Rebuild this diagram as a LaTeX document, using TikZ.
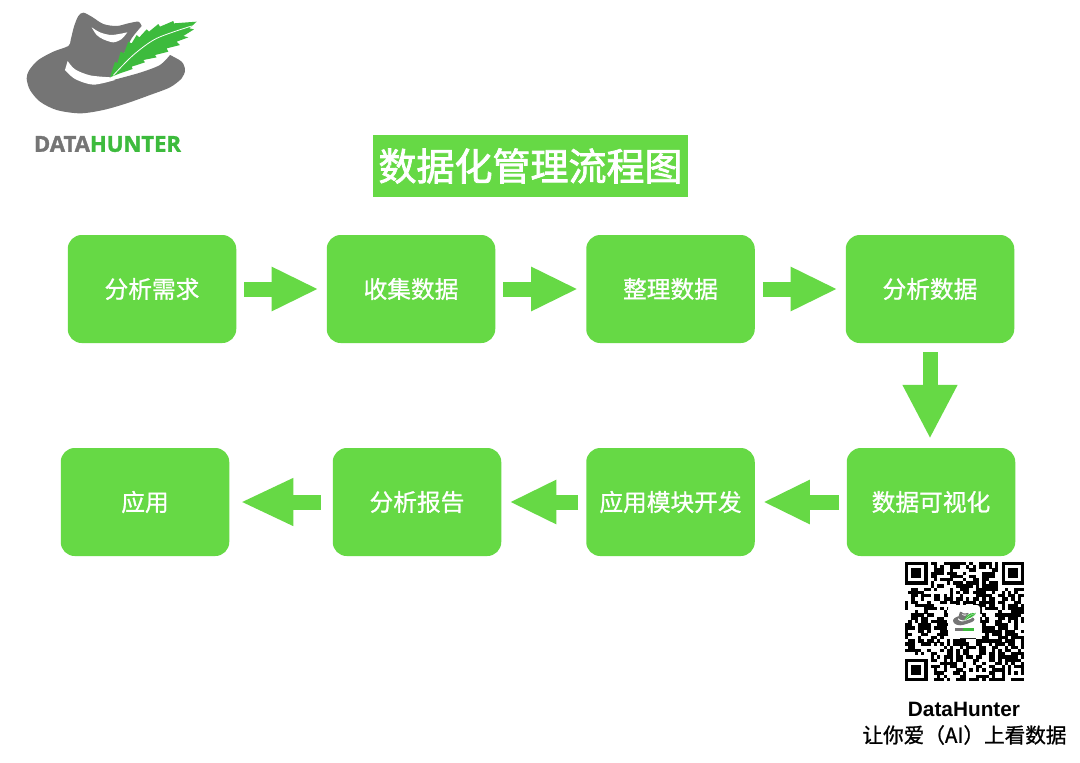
\documentclass[tikz,border=0pt]{standalone}
\usepackage{fontspec}
\usetikzlibrary{arrows.meta}
\newfontfamily\cjk[FakeBold=1]{Noto Sans CJK SC}
\newfontfamily\cjktitle[FakeBold=2]{Noto Sans CJK SC}
\newfontfamily\heros{Liberation Sans}
\newfontfamily\logofont[FakeBold=1.5]{Open Sans}
\definecolor{boxgreen}{HTML}{66D945}
\definecolor{hatgray}{HTML}{757575}
\definecolor{feather}{HTML}{3DBB3D}
\tikzset{
  stepbox/.style={fill=boxgreen,rounded corners=14pt,minimum width=168.5pt,minimum height=108pt,inner sep=0pt,text=white,font=\cjk\fontsize{23.7}{28}\selectfont},
  blockarrow/.style={draw=boxgreen,line width=15pt,-{Triangle[length=47pt,width=41pt,fill=boxgreen]},shorten <=8pt,shorten >=8pt},
}
\newcommand{\hatlogo}[1]{%
  \fill[hatgray] plot[smooth,tension=.5] coordinates {(425,78) (415,65) (385,70) (350,78) (310,72) (275,50) (250,38) (235,48) (222,80) (212,120) (205,138) (160,155) (115,180) (88,210) (80,235) (90,270) (120,305) (170,330) (240,340) (310,330) (380,310) (450,285) (510,262) (545,235) (555,210) (545,185) (510,165)}
    -- plot[smooth,tension=.5] coordinates {(510,165) (480,195) (420,218) (340,240)}
    -- (330,232) -- plot[smooth,tension=.5] coordinates {(330,232) (345,205) (370,165) (395,115) (425,78)} -- cycle;
  \fill[white] plot[smooth,tension=.5] coordinates {(203,183) (225,208) (270,226) (332,232)}
    -- (345,240) -- plot[smooth,tension=.5] coordinates {(345,240) (280,254) (225,237) (195,210)} -- cycle;
  \fill[white] plot[smooth,tension=.5] coordinates {(275,82) (300,97) (335,105) (382,97)}
    -- plot[smooth,tension=.5] coordinates {(382,97) (365,117) (340,127) (310,118) (290,105) (275,82)} -- cycle;
  \fill[feather] (330,232) -- (345,185) -- (352,190) -- (362,155) -- (372,160) -- (385,125) -- (395,130) -- (410,105) -- (418,112) -- (440,88) -- (447,95) -- (475,72) -- (480,80) -- (520,63) -- (522,70) -- (590,65) -- (568,85) -- (582,88) -- (550,108) -- (565,112) -- (530,125) -- (540,135) -- (500,145) -- (505,155) -- (465,165) -- (470,172) -- (430,180) -- (435,187) -- (395,200) -- (398,207) -- (360,220) -- cycle;
  \draw[white,line width=#1] plot[smooth,tension=.5] coordinates {(340,226) (400,165) (470,115) (575,78)};
}
\begin{document}
\begin{tikzpicture}[x=1pt,y=-1pt]
\useasboundingbox (0,0) rectangle (1080,763);
\fill[white] (0,0) rectangle (1080,763);

% logo
\begin{scope}[scale=1/3]
\hatlogo{0.8pt}
\end{scope}
\node[anchor=center,inner sep=0pt] (brand) at (107.5,144) {\resizebox{147pt}{!}{\logofont\fontsize{25}{30}\selectfont\bfseries\textcolor{hatgray}{DATA}\textcolor{feather}{HUNTER}}};

% title
\node[fill=boxgreen,minimum width=315pt,minimum height=62pt,inner sep=0pt,text=white,font=\cjktitle\fontsize{38}{44}\selectfont] (title) at (530.5,166) {数据化管理流程图};

% steps
\node[stepbox] (s1) at (152,289) {分析需求};
\node[stepbox] (s2) at (411,289) {收集数据};
\node[stepbox] (s3) at (670.5,289) {整理数据};
\node[stepbox] (s4) at (930,289) {分析数据};
\node[stepbox] (s5) at (931,502) {数据可视化};
\node[stepbox] (s6) at (670.5,502) {应用模块开发};
\node[stepbox] (s7) at (417,502) {分析报告};
\node[stepbox] (s8) at (145,502) {应用};

% arrows
\draw[blockarrow] (s1) -- (s2);
\draw[blockarrow] (s2) -- (s3);
\draw[blockarrow] (s3) -- (s4);
\draw[blockarrow,-{Triangle[length=54pt,width=51pt,fill=boxgreen]},shorten <=9pt,shorten >=9pt] (s4.south) -- (s4.south |- s5.north);
\draw[blockarrow] (s5) -- (s6);
\draw[blockarrow] (s6) -- (s7);
\draw[blockarrow,-{Triangle[length=53pt,width=44pt,fill=boxgreen]},shorten <=12pt,shorten >=11pt] (s7) -- (s8);

% QR code
\begin{scope}[shift={(905,562)},x=3.22pt,y=-3.22pt]
  \pgfmathsetseed{4217}
  \foreach \i in {0,...,36}{
    \foreach \j in {0,...,36}{
      \pgfmathsetmacro{\r}{rnd}
      \ifdim \r pt<0.56pt
        \fill[black] (\i-.02,\j-.02) rectangle (\i+1.02,\j+1.02);
      \fi
    }
  }
  \foreach \a/\b in {0/0,30/0,0/30}{
    \fill[white] (\a-1,\b-1) rectangle (\a+8,\b+8);
    \fill[black] (\a,\b) rectangle (\a+7,\b+7);
    \fill[white] (\a+1,\b+1) rectangle (\a+6,\b+6);
    \fill[black] (\a+2,\b+2) rectangle (\a+5,\b+5);
  }
  \fill[white] (0,-1.2) rectangle (37,0);
\end{scope}
\fill[white,rounded corners=3pt] (948,605) rectangle (980,638);
\begin{scope}[shift={(949.4,610)},scale=0.045]
\hatlogo{0.2pt}
\end{scope}
\fill[hatgray] (955,628) rectangle (963,630.5);
\fill[feather] (963,628) rectangle (974,630.5);

% caption
\node[inner sep=0pt,font=\heros\bfseries\fontsize{20.8}{24}\selectfont] (cap1) at (964,709) {DataHunter};
\node[inner sep=0pt,font=\cjk\fontsize{20.6}{26}\selectfont] (cap2) at (964.5,735) {让你爱（AI）上看数据};
\end{tikzpicture}
\end{document}
